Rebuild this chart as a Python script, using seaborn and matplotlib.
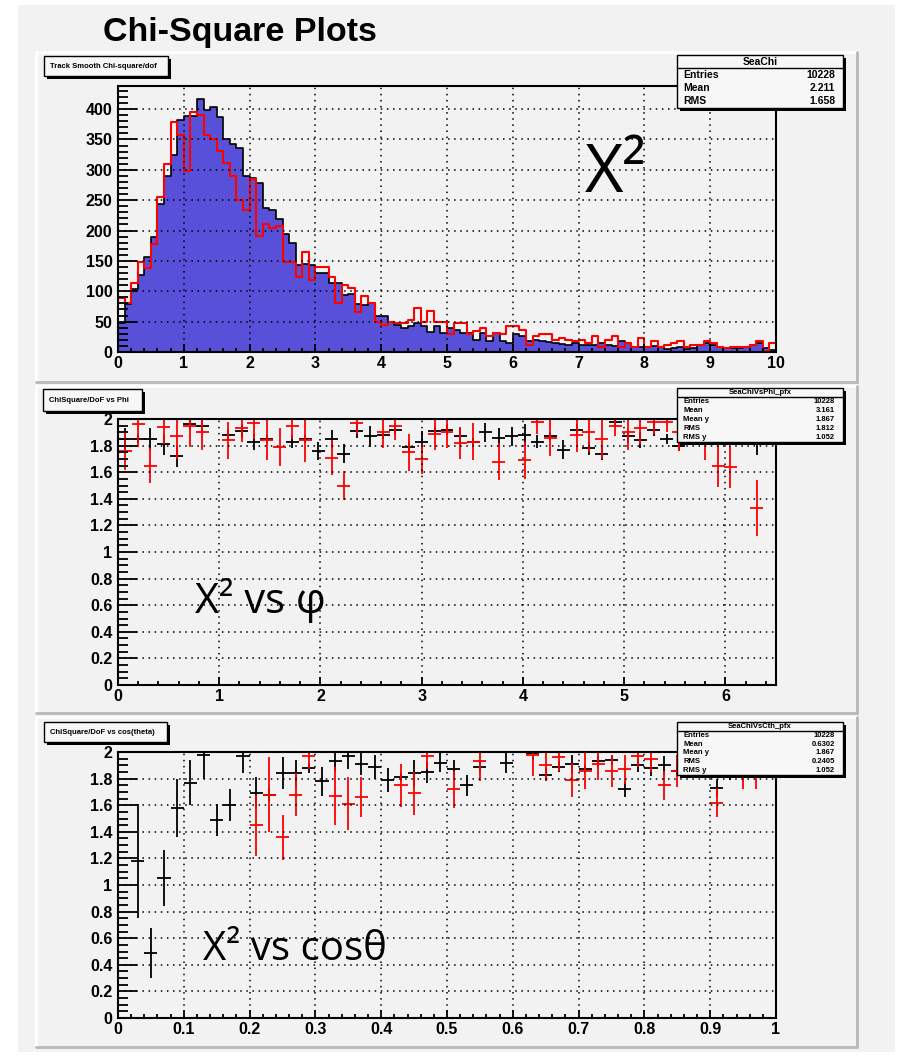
import numpy as np
import pandas as pd
import seaborn as sns
import matplotlib.pyplot as plt
from matplotlib.patches import Rectangle
from matplotlib.lines import Line2D
from matplotlib.ticker import MultipleLocator

# ---- data ----
# chi2/dof histogram, 100 bins from 0 to 10
chi2_range = (0, 10)
chi2_nbins = 100
blue_counts = [48, 79, 103, 127, 156, 190, 244, 289, 325, 382,
               388, 389, 416, 399, 404, 387, 350, 342, 336, 290,
               286, 278, 237, 234, 219, 194, 179, 143, 145, 143,
               130, 130, 114, 114, 94, 96, 79, 77, 81, 60,
               60, 50, 45, 39, 42, 48, 42, 33, 42, 32,
               40, 37, 31, 31, 20, 31, 18, 31, 18, 15,
               29, 26, 18, 20, 18, 16, 15, 13, 12, 14,
               12, 12, 12, 14, 12, 10, 18, 15, 9, 8,
               9, 10, 8, 5, 7, 9, 5, 7, 12, 14,
               12, 8, 7, 7, 7, 8, 12, 15, 7, 4]
red_counts = [89, 80, 114, 149, 138, 178, 255, 310, 378, 357,
              298, 396, 391, 357, 351, 331, 312, 289, 250, 234,
              285, 191, 210, 205, 207, 148, 149, 123, 164, 118,
              140, 140, 123, 81, 111, 105, 66, 93, 81, 50,
              44, 50, 48, 48, 52, 72, 50, 67, 49, 49,
              30, 48, 48, 30, 34, 40, 26, 31, 29, 43,
              43, 37, 12, 26, 29, 29, 20, 23, 20, 18,
              20, 15, 26, 9, 20, 26, 9, 15, 9, 23,
              9, 18, 8, 12, 15, 18, 8, 12, 12, 18,
              14, 9, 7, 8, 8, 8, 12, 18, 1, 15]

# profile vs phi (bin half width 0.064)
phi_black_x = [0.07, 0.20, 0.32, 0.45, 0.58, 0.71, 0.83, 1.09, 1.22, 1.34, 1.47, 1.72, 1.85,
               1.98, 2.11, 2.23, 2.36, 2.49, 2.62, 2.74, 2.87, 3.00, 3.13, 3.25, 3.38, 3.51,
               3.63, 3.76, 3.89, 4.02, 4.14, 4.27, 4.40, 4.53, 4.65, 4.78, 4.91, 5.04, 5.16,
               5.29, 5.42, 5.54, 6.31]
phi_black_y = [1.85, 1.85, 1.85, 1.81, 1.72, 1.96, 1.95, 1.88, 1.91, 1.83, 1.85, 1.83, 1.85,
               1.76, 1.85, 1.74, 1.91, 1.87, 1.88, 1.92, 1.79, 1.83, 1.91, 1.92, 1.87, 1.83,
               1.90, 1.86, 1.87, 1.88, 1.83, 1.87, 1.77, 1.92, 1.78, 1.74, 1.98, 1.87, 1.84,
               1.92, 1.85, 1.80, 1.88]
phi_black_err = [0.08, 0.03, 0.08, 0.08, 0.08, 0.04, 0.04, 0.04, 0.05, 0.06, 0.03, 0.05, 0.03,
                 0.07, 0.07, 0.07, 0.05, 0.08, 0.03, 0.03, 0.04, 0.08, 0.03, 0.04, 0.06, 0.03,
                 0.07, 0.07, 0.07, 0.08, 0.05, 0.03, 0.07, 0.04, 0.05, 0.05, 0.03, 0.05, 0.06,
                 0.05, 0.04, 0.04, 0.15]
phi_red_x = [0.07, 0.20, 0.32, 0.45, 0.58, 0.71, 0.83, 1.09, 1.22, 1.34, 1.47, 1.60, 1.72,
             1.85, 2.11, 2.23, 2.36, 2.62, 2.74, 2.87, 3.00, 3.13, 3.25, 3.38, 3.51, 3.76,
             4.02, 4.14, 4.27, 4.53, 4.65, 4.78, 4.91, 5.04, 5.16, 5.29, 5.42, 5.54, 5.80,
             5.93, 6.05, 6.31]
phi_red_y = [1.76, 1.96, 1.65, 1.94, 1.87, 1.95, 1.90, 1.84, 1.93, 1.97, 1.84, 1.79, 1.95,
             1.84, 1.71, 1.50, 1.97, 1.90, 1.95, 1.75, 1.70, 1.89, 1.90, 1.82, 1.83, 1.68,
             1.69, 1.98, 1.86, 1.88, 1.90, 1.85, 1.95, 1.90, 1.93, 1.98, 1.98, 1.90, 1.84,
             1.65, 1.64, 1.33]
phi_red_err = [0.14, 0.17, 0.13, 0.13, 0.17, 0.16, 0.13, 0.14, 0.10, 0.12, 0.15, 0.14, 0.10,
               0.16, 0.13, 0.11, 0.08, 0.12, 0.11, 0.14, 0.11, 0.12, 0.12, 0.12, 0.14, 0.14,
               0.14, 0.09, 0.14, 0.13, 0.15, 0.15, 0.08, 0.13, 0.12, 0.09, 0.08, 0.14, 0.15,
               0.16, 0.16, 0.21]

# profile vs cos(theta) (bin half width 0.01)
cth_black_x = [0.03, 0.05, 0.07, 0.09, 0.11, 0.13, 0.15, 0.17, 0.19, 0.21, 0.23, 0.25, 0.27,
               0.29, 0.31, 0.33, 0.35, 0.37, 0.39, 0.41, 0.43, 0.45, 0.47, 0.49, 0.51, 0.53,
               0.55, 0.59, 0.63, 0.65, 0.67, 0.69, 0.71, 0.73, 0.75, 0.77, 0.79, 0.81, 0.83,
               0.85, 0.91, 0.93, 0.95]
cth_black_y = [1.18, 0.49, 1.05, 1.58, 1.77, 1.98, 1.49, 1.60, 1.97, 1.69, 1.68, 1.84, 1.84,
               1.88, 1.78, 1.93, 1.97, 1.91, 1.89, 1.79, 1.81, 1.84, 1.85, 1.92, 1.87, 1.75,
               1.89, 1.92, 1.99, 1.83, 1.89, 1.91, 1.87, 1.93, 1.94, 1.72, 1.90, 1.88, 1.90,
               1.86, 1.73, 1.88, 1.81]
cth_black_err = [0.43, 0.19, 0.21, 0.22, 0.17, 0.18, 0.12, 0.12, 0.13, 0.12, 0.05, 0.12, 0.10,
                 0.04, 0.11, 0.07, 0.10, 0.08, 0.09, 0.09, 0.03, 0.10, 0.08, 0.07, 0.07, 0.08,
                 0.05, 0.08, 0.05, 0.05, 0.04, 0.07, 0.03, 0.04, 0.04, 0.06, 0.05, 0.06, 0.07,
                 0.04, 0.07, 0.09, 0.03]
cth_red_x = [0.21, 0.23, 0.25, 0.27, 0.29, 0.33, 0.35, 0.37, 0.43, 0.45, 0.47, 0.51, 0.55,
             0.63, 0.65, 0.67, 0.69, 0.71, 0.73, 0.75, 0.77, 0.79, 0.81, 0.83, 0.85, 0.89,
             0.91, 0.93, 0.95, 0.97]
cth_red_y = [1.45, 1.68, 1.36, 1.68, 1.97, 1.67, 1.61, 1.66, 1.75, 1.69, 1.97, 1.72, 1.93,
             1.98, 1.90, 1.96, 1.79, 1.86, 1.91, 1.86, 1.87, 1.97, 1.95, 1.75, 1.86, 1.92,
             1.62, 1.97, 1.81, 1.82]
cth_red_err = [0.23, 0.28, 0.17, 0.16, 0.10, 0.22, 0.20, 0.15, 0.16, 0.16, 0.10, 0.14, 0.15,
               0.16, 0.12, 0.10, 0.13, 0.14, 0.12, 0.12, 0.11, 0.08, 0.10, 0.11, 0.12, 0.10,
               0.11, 0.09, 0.09, 0.10]

bin_w = (chi2_range[1] - chi2_range[0]) / chi2_nbins
hist_df = pd.DataFrame({"chi2": chi2_range[0] + bin_w * (np.arange(chi2_nbins) + 0.5),
                        "blue": blue_counts, "red": red_counts})

# ---- layout helpers (pixel coordinates, origin top-left) ----
W, H = 899, 1057
BG = "#f2f2f2"

sns.set_style("ticks")
plt.rcParams["font.family"] = ["Liberation Sans", "DejaVu Sans"]
plt.rcParams["text.color"] = "black"
plt.rcParams["xtick.color"] = "black"
plt.rcParams["ytick.color"] = "black"

fig = plt.figure(figsize=(W / 100, H / 100), dpi=100, facecolor="white")


def fx(x):
    return x / W


def fy(y):
    return 1 - y / H


def frect(l, t, r, b, **kw):
    p = Rectangle((fx(l), fy(b)), (r - l) / W, (b - t) / H, transform=fig.transFigure, **kw)
    fig.add_artist(p)
    return p


def fline(x1, y1, x2, y2, **kw):
    fig.add_artist(Line2D([fx(x1), fx(x2)], [fy(y1), fy(y2)], transform=fig.transFigure, **kw))


def pad(l, t, r, b):
    frect(l, t, r, b, facecolor=BG, edgecolor="none", zorder=-2)
    fline(l, t, r, t, color="white", lw=2, zorder=-1)
    fline(l, t, l, b, color="white", lw=2, zorder=-1)
    fline(l, b, r, b, color="#b8b8b8", lw=2, zorder=-1)
    fline(r, t, r, b, color="#b8b8b8", lw=2, zorder=-1)


def title_box(l, t, r, b, text):
    frect(l + 3, t + 3, r + 3, b + 3, facecolor="black", edgecolor="none", zorder=5)
    frect(l, t, r, b, facecolor="#f7f7f7", edgecolor="black", lw=1, zorder=6)
    fig.text(fx(l + 6), fy((t + b) / 2), text, fontsize=5.5, fontweight="bold",
             va="center", ha="left", zorder=7)


def stats_box(l, t, r, b, title, rows, fs):
    n = len(rows) + 1
    rh = (b - t) / n
    frect(l + 3, t + 3, r + 3, b + 3, facecolor="black", edgecolor="none", zorder=5)
    frect(l, t, r, b, facecolor="#f7f7f7", edgecolor="black", lw=1, zorder=6)
    fline(l, t + rh, r, t + rh, color="black", lw=1, zorder=7)
    fig.text(fx((l + r) / 2), fy(t + rh / 2), title, fontsize=fs, fontweight="bold",
             ha="center", va="center", zorder=7)
    for i, (name, val) in enumerate(rows):
        yc = t + rh * (i + 1.5)
        fig.text(fx(l + 6), fy(yc), name, fontsize=fs, fontweight="bold",
                 ha="left", va="center", zorder=7)
        fig.text(fx(r - 8), fy(yc), val, fontsize=fs, fontweight="bold",
                 ha="right", va="center", zorder=7)


def style_axes(ax, xlim, ylim, xmaj, xmin, ymaj, ymin):
    ax.set_facecolor(BG)
    ax.set_xlim(*xlim)
    ax.set_ylim(*ylim)
    ax.xaxis.set_major_locator(MultipleLocator(xmaj))
    ax.xaxis.set_minor_locator(MultipleLocator(xmin))
    ax.yaxis.set_major_locator(MultipleLocator(ymaj))
    ax.yaxis.set_minor_locator(MultipleLocator(ymin))
    ax.xaxis.set_major_formatter(plt.FuncFormatter(lambda v, p: f"{v:g}"))
    ax.yaxis.set_major_formatter(plt.FuncFormatter(lambda v, p: f"{v:g}"))
    ax.tick_params(axis="x", which="major", direction="in", length=6, width=1.3, pad=3,
                   labelsize=11.5, labelcolor="black")
    ax.tick_params(axis="x", which="minor", direction="in", length=3, width=1.3)
    ax.tick_params(axis="y", which="major", direction="in", length=14, width=1.3, pad=4,
                   labelsize=11.5, labelcolor="black")
    ax.tick_params(axis="y", which="minor", direction="in", length=7, width=1.3)
    for lab in ax.get_xticklabels() + ax.get_yticklabels():
        lab.set_fontweight("bold")
    for s in ax.spines.values():
        s.set_color("black")
        s.set_linewidth(1.5)
        s.set_visible(True)
    ax.grid(True, which="major", color="black", linestyle=(0, (1, 3)), linewidth=1.1)
    ax.grid(False, which="minor")
    ax.set_axisbelow(False)
    ax.set_xlabel("")
    ax.set_ylabel("")


def new_axes(l, t, r, b):
    return fig.add_axes([fx(l), fy(b), (r - l) / W, (b - t) / H])


# ---- background ----
frect(18, 5, 895, 1052, facecolor=BG, edgecolor="none", zorder=-3)
pad(36, 52, 857, 382)
pad(36, 386, 857, 713)
pad(36, 717, 857, 1047)

fig.text(fx(103), fy(41), "Chi-Square Plots", fontsize=24.5, fontweight="bold",
         ha="left", va="baseline")

# ---- panel 1: histogram ----
ax1 = new_axes(118, 86, 776, 352)
sns.histplot(data=hist_df, x="chi2", weights="blue", bins=chi2_nbins, binrange=chi2_range,
             element="step", fill=True, color="#5850d8", alpha=1, edgecolor="black",
             linewidth=1.2, ax=ax1)
sns.histplot(data=hist_df, x="chi2", weights="red", bins=chi2_nbins, binrange=chi2_range,
             element="step", fill=False, color="red", linewidth=1.5, ax=ax1)
style_axes(ax1, chi2_range, (0, 438), 1, 0.2, 50, 10)

# ---- panel 2: profile vs phi ----
ax2 = new_axes(118, 419, 776, 685)
ax2.errorbar(phi_black_x, phi_black_y, xerr=0.064, yerr=phi_black_err, fmt="none",
             ecolor="black", elinewidth=1.3, capsize=0)
ax2.errorbar(phi_red_x, phi_red_y, xerr=0.064, yerr=phi_red_err, fmt="none",
             ecolor="red", elinewidth=1.3, capsize=0)
style_axes(ax2, (0, 6.5), (0, 2), 1, 0.2, 0.2, 0.05)

# ---- panel 3: profile vs cos(theta) ----
ax3 = new_axes(118, 752, 776, 1018)
ax3.errorbar(cth_black_x, cth_black_y, xerr=0.01, yerr=cth_black_err, fmt="none",
             ecolor="black", elinewidth=1.3, capsize=0)
ax3.errorbar(cth_red_x, cth_red_y, xerr=0.01, yerr=cth_red_err, fmt="none",
             ecolor="red", elinewidth=1.3, capsize=0)
style_axes(ax3, (0, 1), (0, 2), 0.1, 0.02, 0.2, 0.05)

# ---- boxes and labels ----
title_box(44, 56, 168, 76, "Track Smooth Chi-square/dof")
title_box(43, 389, 142, 411, "ChiSquare/DoF vs Phi")
title_box(44, 722, 167, 742, "ChiSquare/DoF vs cos(theta)")

stats_box(677, 55, 843, 108, "SeaChi",
          [("Entries", "10228"), ("Mean", "2.211"), ("RMS", "1.658")], 7.5)
stats_box(677, 388, 843, 442, "SeaChiVsPhi_pfx",
          [("Entries", "10228"), ("Mean", "3.161"), ("Mean y", "1.867"),
           ("RMS", "1.812"), ("RMS y", "1.052")], 5.5)
stats_box(677, 722, 843, 775, "SeaChiVsCth_pfx",
          [("Entries", "10228"), ("Mean", "0.6302"), ("Mean y", "1.867"),
           ("RMS", "0.2405"), ("RMS y", "1.052")], 5.5)

big = ["Open Sans", "DejaVu Sans"]
fig.text(fx(585), fy(192), "X²", fontsize=48, family=big, ha="left", va="baseline")
fig.text(fx(195), fy(613), "X² vs φ", fontsize=30, family=big, ha="left", va="baseline")
fig.text(fx(203), fy(960), "X² vs cosθ", fontsize=29, family=big, ha="left", va="baseline")

fig.savefig("out.png", dpi=100, facecolor="white")
